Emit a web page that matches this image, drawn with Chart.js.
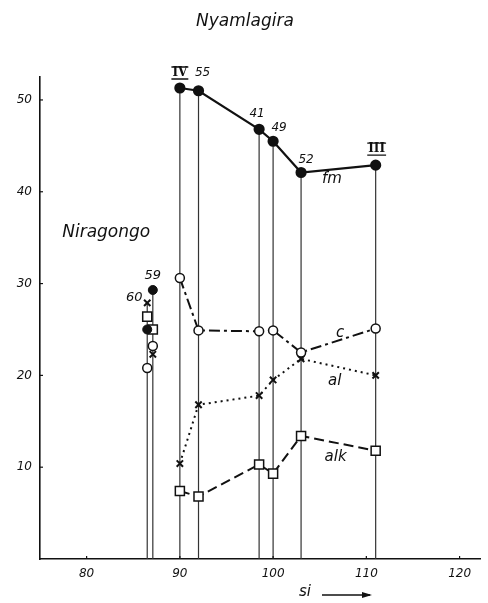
<!DOCTYPE html>
<html>
<head>
  <title>Nyamlagira / Niragongo</title>
  <style>
    html, body { margin: 0; padding: 0; background: #fff; }
    #wrap { width: 488px; height: 603px; }
  </style>
</head>
<body>
  <div id="wrap"><canvas id="myChart" width="488" height="603"></canvas></div>

  <script src="https://cdn.jsdelivr.net/npm/chart.js"></script>
  <script>
    // Nyamlagira samples
    var sampleNames = ['IV', '55', '41', '49', '52', 'III'];
    var siValues = [90, 92, 98.5, 100, 103, 111];
    var fmValues = [51.3, 51.0, 46.8, 45.5, 42.1, 42.9];
    var cValues = [30.6, 24.9, 24.8, 24.9, 22.5, 25.1];
    var alValues = [10.4, 16.8, 17.8, 19.5, 21.8, 20.0];
    var alkValues = [7.4, 6.8, 10.3, 9.3, 13.4, 11.8];

    // Niragongo samples
    var niraNames = ['60', '59'];
    var niraSi = [86.5, 87.1];
    var niraFm = [25.0, 29.3];
    var niraC = [20.8, 23.2];
    var niraAl = [27.9, 22.3];
    var niraAlk = [26.4, 25.0];

    var xTicks = [80, 90, 100, 110, 120];
    var yTicks = [10, 20, 30, 40, 50];

    var INK = '#111';

    function pts(xs, ys) {
      return xs.map(function(x, i) { return { x: x, y: ys[i] }; });
    }

    var datasets = [];

    // series lines (Nyamlagira)
    datasets.push({ label: 'fm', data: pts(siValues, fmValues), showLine: true,
      borderColor: INK, borderWidth: 2.2, pointStyle: 'circle', pointRadius: 4.5,
      pointBackgroundColor: INK, pointBorderColor: INK, order: 1 });
    datasets.push({ label: 'c', data: pts(siValues, cValues), showLine: true,
      borderColor: INK, borderWidth: 2, borderDash: [11, 4, 3, 4], pointStyle: 'circle', pointRadius: 4.5,
      pointBackgroundColor: '#fff', pointBorderColor: INK, pointBorderWidth: 1.5, order: 1 });
    datasets.push({ label: 'al', data: pts(siValues, alValues), showLine: true,
      borderColor: INK, borderWidth: 2, borderDash: [2, 4], pointStyle: 'crossRot', pointRadius: 4.5,
      pointBorderColor: INK, pointBorderWidth: 2, order: 1 });
    datasets.push({ label: 'alk', data: pts(siValues, alkValues), showLine: true,
      borderColor: INK, borderWidth: 2, borderDash: [10, 5], pointStyle: 'rect', pointRadius: 6.4,
      pointBackgroundColor: '#fff', pointBorderColor: INK, pointBorderWidth: 1.5, order: 1 });

    // Niragongo points, no connecting lines
    datasets.push({ label: 'nfm', data: pts(niraSi, niraFm), showLine: false, pointStyle: 'circle',
      pointRadius: 4.5, pointBackgroundColor: INK, pointBorderColor: INK, order: 2 });
    datasets.push({ label: 'nc', data: pts(niraSi, niraC), showLine: false, pointStyle: 'circle',
      pointRadius: 4.5, pointBackgroundColor: '#fff', pointBorderColor: INK, pointBorderWidth: 1.5, order: 2 });
    datasets.push({ label: 'nal', data: pts(niraSi, niraAl), showLine: false, pointStyle: 'crossRot',
      pointRadius: 4.5, pointBorderColor: INK, pointBorderWidth: 2, order: 2 });
    datasets.push({ label: 'nalk', data: pts(niraSi, niraAlk), showLine: false, pointStyle: 'rect',
      pointRadius: 6.4, pointBackgroundColor: '#fff', pointBorderColor: INK, pointBorderWidth: 1.5, order: 2 });

    // vertical drop lines from the axis to the top value of every sample
    siValues.forEach(function(x, i) {
      datasets.push({ label: 'v' + i, data: [{ x: x, y: 0 }, { x: x, y: fmValues[i] }], showLine: true,
        borderColor: '#333', borderWidth: 1.2, pointRadius: 0, order: 10 });
    });
    niraSi.forEach(function(x, i) {
      var top = Math.max(niraFm[i], niraC[i], niraAl[i], niraAlk[i]);
      datasets.push({ label: 'nv' + i, data: [{ x: x, y: 0 }, { x: x, y: top }], showLine: true,
        borderColor: '#333', borderWidth: 1.2, pointRadius: 0, order: 10 });
    });

    var namePos = { 'IV': [0, -15], '55': [4, -18], '41': [-2, -15], '49': [6, -13], '52': [5, -13], 'III': [1, -16] };
    var niraPos = { '60': [-13, -5], '59': [0, -14] };
    var seriesTags = [
      { text: 'fm', x: 106.3, y: 41.4 },
      { text: 'c', x: 107.2, y: 24.6 },
      { text: 'al', x: 106.6, y: 19.4 },
      { text: 'alk', x: 106.7, y: 11.1 }
    ];

    var textPlugin = {
      id: 'texts',
      afterDatasetsDraw: function(chart) {
        var ctx = chart.ctx;
        var xs = chart.scales.x, ys = chart.scales.y;
        ctx.save();
        ctx.fillStyle = INK;
        ctx.strokeStyle = INK;
        ctx.textAlign = 'center';
        ctx.textBaseline = 'middle';

        // inward tick marks
        ctx.lineWidth = 1.2;
        yTicks.forEach(function(v) {
          var py = ys.getPixelForValue(v);
          ctx.beginPath(); ctx.moveTo(xs.left, py); ctx.lineTo(xs.left + 3, py); ctx.stroke();
        });
        xTicks.forEach(function(v) {
          var px = xs.getPixelForValue(v);
          ctx.beginPath(); ctx.moveTo(px, ys.bottom); ctx.lineTo(px, ys.bottom - 3); ctx.stroke();
        });

        ctx.font = 'italic 17px "DejaVu Sans"';
        ctx.fillText('Nyamlagira', 245, 22);
        ctx.fillText('Niragongo', xs.getPixelForValue(82.1), ys.getPixelForValue(35.6));

        // sample numbers
        sampleNames.forEach(function(n, i) {
          var px = xs.getPixelForValue(siValues[i]) + namePos[n][0];
          var py = ys.getPixelForValue(fmValues[i]) + namePos[n][1];
          if (n === 'IV' || n === 'III') {
            ctx.font = 'bold 12px "DejaVu Serif"';
            ctx.fillText(n, px, py);
            var w = ctx.measureText(n).width;
            ctx.lineWidth = 1.3;
            ctx.beginPath();
            ctx.moveTo(px - w / 2 - 1, py - 6); ctx.lineTo(px + w / 2 + 1, py - 6);
            ctx.moveTo(px - w / 2 - 1, py + 6); ctx.lineTo(px + w / 2 + 1, py + 6);
            ctx.stroke();
          } else {
            ctx.font = 'italic 12px "DejaVu Sans"';
            ctx.fillText(n, px, py);
          }
        });
        ctx.font = 'italic 13px "DejaVu Sans"';
        niraNames.forEach(function(n, i) {
          var top = Math.max(niraFm[i], niraC[i], niraAl[i], niraAlk[i]);
          ctx.fillText(n, xs.getPixelForValue(niraSi[i]) + niraPos[n][0], ys.getPixelForValue(top) + niraPos[n][1]);
        });

        ctx.font = 'italic 15px "DejaVu Sans"';
        seriesTags.forEach(function(t) {
          ctx.fillText(t.text, xs.getPixelForValue(t.x), ys.getPixelForValue(t.y));
        });

        // si axis title with arrow
        ctx.fillText('si', 305, 592);
        ctx.lineWidth = 1.3;
        ctx.beginPath(); ctx.moveTo(322, 595); ctx.lineTo(370, 595); ctx.stroke();
        ctx.beginPath(); ctx.moveTo(372, 595); ctx.lineTo(362, 592); ctx.lineTo(362, 598); ctx.closePath(); ctx.fill();
        ctx.restore();
      }
    };

    var ctx = document.getElementById('myChart').getContext('2d');
    var chart = new Chart(ctx, {
      type: 'scatter',
      data: { datasets: datasets },
      options: {
        responsive: false,
        animation: false,
        layout: { padding: { top: 77, right: 2, left: 0, bottom: 0 } },
        plugins: { legend: { display: false }, tooltip: { enabled: false } },
        scales: {
          x: {
            type: 'linear', min: 75, max: 122.2,
            afterBuildTicks: function(s) { s.ticks = xTicks.map(function(v) { return { value: v }; }); },
            afterFit: function(s) { s.height = 44; },
            grid: { display: false, drawTicks: false },
            border: { display: true, color: INK, width: 1.6 },
            ticks: { color: INK, font: { family: 'DejaVu Sans', style: 'italic', size: 12 }, padding: 8, maxRotation: 0 }
          },
          y: {
            type: 'linear', min: 0, max: 52.5,
            afterBuildTicks: function(s) { s.ticks = yTicks.map(function(v) { return { value: v }; }); },
            afterFit: function(s) { s.width = 40; },
            grid: { display: false, drawTicks: false },
            border: { display: true, color: INK, width: 1.6 },
            ticks: { color: INK, font: { family: 'DejaVu Sans', style: 'italic', size: 12 }, padding: 8 }
          }
        }
      },
      plugins: [textPlugin]
    });
  </script>
</body>
</html>
